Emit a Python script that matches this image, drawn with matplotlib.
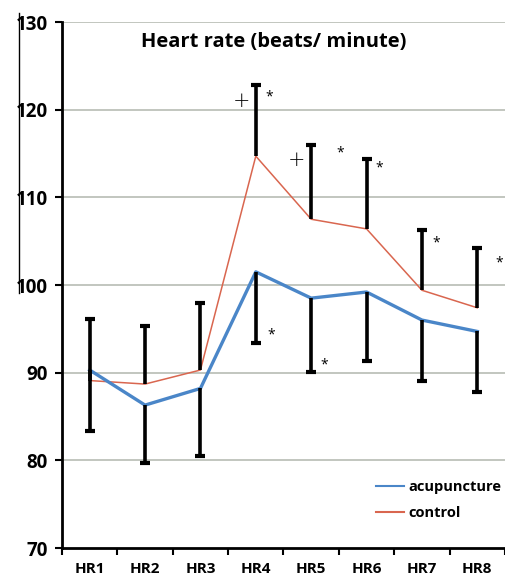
import matplotlib
matplotlib.use("Agg")
import matplotlib.pyplot as plt
from matplotlib.lines import Line2D
import numpy as np

categories = ["HR1", "HR2", "HR3", "HR4", "HR5", "HR6", "HR7", "HR8"]
acupuncture = [90.3, 86.3, 88.2, 101.5, 98.5, 99.2, 96.0, 94.7]
control = [89.1, 88.7, 90.3, 114.7, 107.5, 106.4, 99.4, 97.4]
control_err_up = [7.0, 6.6, 7.7, 8.1, 8.5, 8.0, 6.9, 6.8]
acup_err_down = [7.0, 6.6, 7.7, 8.1, 8.4, 7.9, 6.9, 6.9]
yticks = [70, 80, 90, 100, 110, 120, 130]

# annotation marks (symbol, x in category units, y value)
marks = [("+", 2.75, 121.0), ("*", 3.24, 121.4), ("+", 3.74, 114.3),
         ("*", 4.52, 115.1), ("*", 5.22, 113.4), ("*", 6.25, 104.8),
         ("*", 7.39, 102.5), ("*", 3.27, 94.3), ("*", 4.23, 90.9)]

plt.rcParams['font.family'] = ['Open Sans', 'DejaVu Sans']

fig = plt.figure(figsize=(5.06, 5.77), dpi=100)
ax = fig.add_axes([62/506, 29/577, 443/506, 526/577])

x = np.arange(len(categories))
blue = "#4a86c8"
red = "#d9664f"

for v in yticks[1:]:
    ax.axhline(v, color="#b8bcb4", lw=1.2, zorder=0)

ax.plot(x, control, color=red, lw=1.1, zorder=3)
ax.plot(x, acupuncture, color=blue, lw=2.4, zorder=3)

c = np.array(control); ce = np.array(control_err_up)
a = np.array(acupuncture); ae = np.array(acup_err_down)
ax.vlines(x, c, c + ce, color="black", lw=2.6, zorder=4)
ax.vlines(x, a - ae, a, color="black", lw=2.6, zorder=4)
ax.plot(x, c + ce, ls="none", marker="_", ms=7, mew=3, color="black", zorder=4)
ax.plot(x, a - ae, ls="none", marker="_", ms=7, mew=3, color="black", zorder=4)

for sym, mx, my in marks:
    if sym == "+":
        ax.text(mx, my, "+", fontsize=15, ha="center", va="center",
                family="DejaVu Sans", fontweight="light", zorder=5)
    else:
        ax.text(mx, my, "*", fontsize=10, ha="center", va="center", zorder=5)

ax.set_xlim(-0.5, len(categories) - 0.5)
ax.set_ylim(70, 130)
ax.set_yticks(yticks)
ax.set_yticklabels([str(v) for v in yticks], fontsize=13.5, fontweight="bold")
ax.set_xticks(x)
ax.set_xticklabels(categories, fontsize=11, fontweight="bold")
ax.set_xticks(np.arange(-0.5, len(categories) + 0.5, 1), minor=True)
ax.tick_params(axis="x", which="major", length=0, pad=10)
ax.tick_params(axis="x", which="minor", length=5, width=1.5, direction="out")
ax.tick_params(axis="y", length=5, width=1.5, direction="out", pad=5)

for s in ["top", "right"]:
    ax.spines[s].set_visible(False)
ax.spines["left"].set_linewidth(2)
ax.spines["bottom"].set_linewidth(2)

fig.text(274/506, 1 - 42/577, "Heart rate (beats/ minute)",
         fontsize=14.5, fontweight="bold", ha="center", va="center")

handles = [Line2D([], [], color=blue, lw=1.5), Line2D([], [], color=red, lw=1.5)]
leg = fig.legend(handles, ["acupuncture", "control"], loc="center left",
                 bbox_to_anchor=(376/506, 1 - 500/577), frameon=False,
                 handlelength=1.9, handletextpad=0.3, labelspacing=0.85,
                 borderpad=0, borderaxespad=0,
                 prop={"weight": "bold", "size": 10.5})

# left border artifact line
fig.add_artist(Line2D([19/506, 19/506], [1 - 13/577, 1 - 293/577],
                      transform=fig.transFigure, color="black", lw=1))

fig.savefig("out.png", dpi=100)
